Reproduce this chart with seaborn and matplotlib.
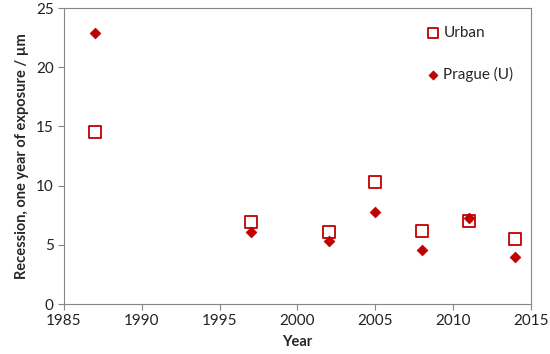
import numpy as np
import pandas as pd
import matplotlib
matplotlib.use('Agg')
import matplotlib.pyplot as plt
import seaborn as sns

years = [1987, 1997, 2002, 2005, 2008, 2011, 2014]
urban = [14.5, 6.95, 6.1, 10.3, 6.2, 7.0, 5.5]
prague = [22.9, 6.05, 5.35, 7.8, 4.55, 7.3, 3.95]

df = pd.concat([
    pd.DataFrame({'Year': years, 'Recession': urban, 'Series': 'Urban'}),
    pd.DataFrame({'Year': years, 'Recession': prague, 'Series': 'Prague (U)'}),
])

sns.set_theme(style='white')
plt.rcParams['font.family'] = ['Lato', 'DejaVu Sans']

red = '#C00000'
fig = plt.figure(figsize=(5.5, 3.54), dpi=100)
ax = fig.add_axes([0.1164, 0.1412, 0.849, 0.836])

u = df[df['Series'] == 'Urban']
p = df[df['Series'] == 'Prague (U)']
sns.scatterplot(data=u, x='Year', y='Recession', marker='s', s=75,
                facecolor='white', edgecolor=red, linewidth=1.3, ax=ax, label='Urban', zorder=3)
sns.scatterplot(data=p, x='Year', y='Recession', marker='D', s=30,
                color=red, edgecolor=red, linewidth=0.5, ax=ax, label='Prague (U)', zorder=4)

ax.set_xlim(1985, 2015)
ax.set_ylim(0, 25)
ax.set_xticks(range(1985, 2016, 5))
ax.set_yticks(range(0, 26, 5))
ax.tick_params(axis='both', direction='out', length=4, width=0.8, color='#868686',
               labelsize=11, colors='#222222', bottom=True, left=True)
for s in ax.spines.values():
    s.set_color('#868686')
    s.set_linewidth(0.8)
ax.set_xlabel('Year', fontsize=10.5, fontweight='bold', labelpad=5)
ax.set_ylabel('Recession, one year of exposure / µm', fontsize=10.5, fontweight='bold', labelpad=5)

leg = ax.legend(loc='upper right', bbox_to_anchor=(0.992, 0.985), frameon=False,
                fontsize=11, labelspacing=1.75, handletextpad=0.3, handlelength=0.8,
                markerscale=0.85)

fig.savefig('out.png', dpi=100)
